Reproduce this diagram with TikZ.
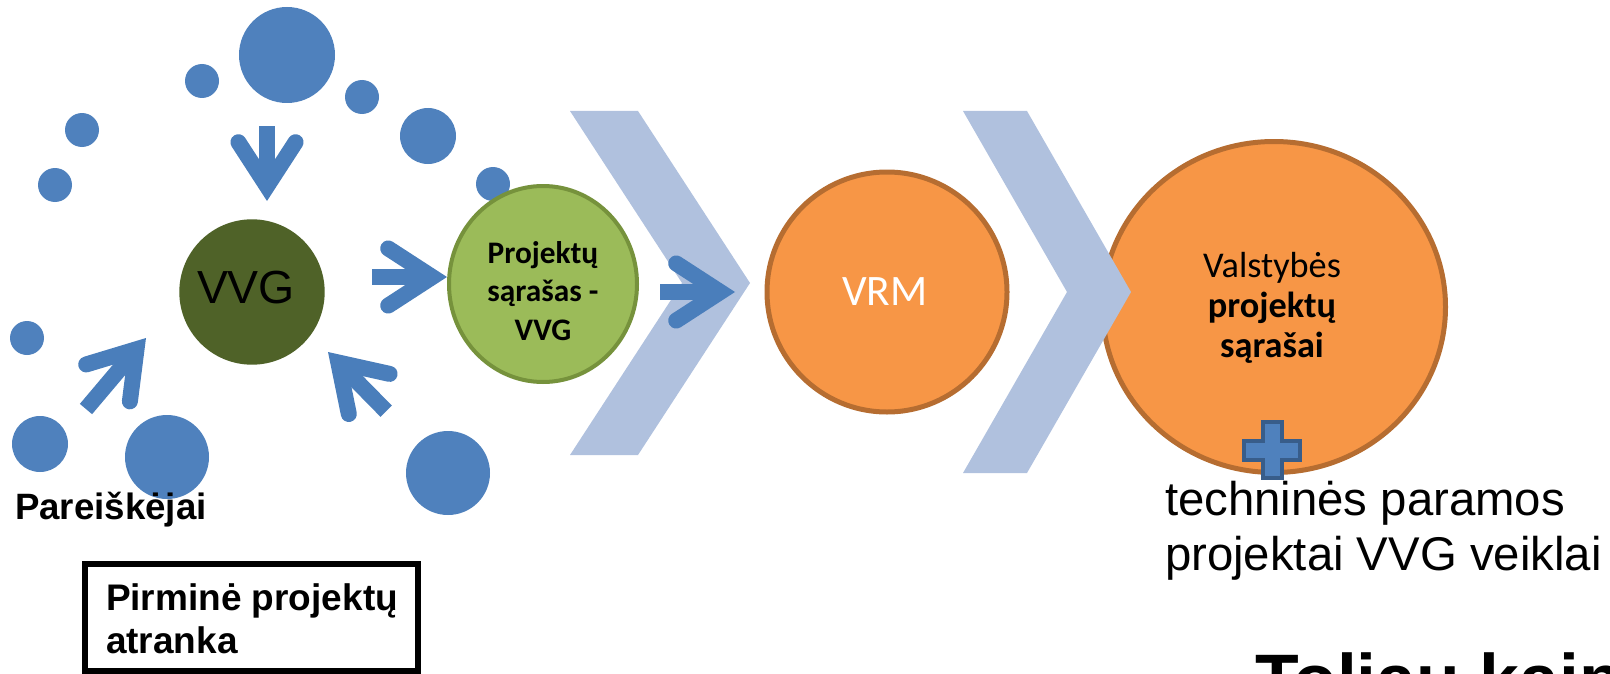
\documentclass[tikz,border=0pt]{standalone}
\usepackage{fontspec}
\setmainfont{Liberation Sans}
\newfontfamily\carlito{Carlito}
\usetikzlibrary{shapes.geometric}
\definecolor{dotblue}{RGB}{79,129,189}
\definecolor{arrowblue}{RGB}{74,126,187}
\definecolor{vvgolive}{RGB}{79,98,40}
\definecolor{lgreen}{RGB}{155,187,89}
\definecolor{lgreenline}{RGB}{118,146,60}
\definecolor{orangefill}{RGB}{247,150,70}
\definecolor{orangeline}{RGB}{182,109,49}
\definecolor{chevblue}{RGB}{176,193,222}
\definecolor{plusline}{RGB}{56,93,138}
\tikzset{
  dot/.style={circle, fill=dotblue, draw=none, inner sep=0pt, outer sep=0pt, minimum size={#1*1.5pt}},
  arrowline/.style={draw=arrowblue, line width=12pt},
  pics/stickarrow/.style={code={
    \draw[arrowline, line cap=butt] (-#1,0) -- (-14.7,0);
    \draw[arrowline, line cap=round, line join=miter] (-58.8,28.6) -- (-14.7,0) -- (-58.8,-28.6);
  }},
  chevron/.style={fill=chevblue, draw=none},
  txt/.style={inner sep=0pt, outer sep=0pt},
  orangecirc/.style={fill=orangefill, draw=orangeline, line width=3.75pt, inner sep=0pt},
}
\begin{document}
\begin{tikzpicture}[x=0.75pt,y=-0.75pt]
\useasboundingbox (0,0) rectangle (1610,674);
% blue dots (applicants)
\node[dot=48] (d1) at (287,55) {};
\node[dot=17] (d2) at (202,81) {};
\node[dot=17] (d3) at (362,97) {};
\node[dot=28] (d4) at (428,136) {};
\node[dot=17] (d5) at (82,130) {};
\node[dot=17] (d6) at (55,185) {};
\node[dot=17] (d7) at (493,184) {};
\node[dot=17] (d8) at (27,338) {};
\node[dot=28] (d9) at (40,444) {};
\node[dot=42] (d10) at (167,457) {};
\node[dot=42] (d11) at (448,473) {};
% VVG circle
\node[circle, fill=vvgolive, inner sep=0pt, minimum size={145.4*0.75pt}] (vvg) at (252,292) {};
% green list circle
\node[ellipse, fill=lgreen, draw=lgreenline, line width=3pt, inner sep=0pt,
      minimum width={188*0.75pt}, minimum height={196*0.75pt}] (list) at (543,284) {};
% arrows towards VVG and list
\pic[rotate=-90] at (267,201) {stickarrow=75};
\pic[rotate=49.8] at (146,338) {stickarrow=93};
\pic[rotate=134.5] at (328,352) {stickarrow=83};
\pic at (447,277) {stickarrow=75};
% chevron 1
\fill[chevron] (570,111) -- (638,111) -- (750,283) -- (638,455) -- (570,455) -- (682,283) -- cycle;
\pic at (735,292) {stickarrow=75};
% VRM
\node[circle, orangecirc, minimum size={240*0.75pt}] (vrm) at (887,292) {};
% state list
\node[ellipse, orangecirc, minimum width={343*0.75pt}, minimum height={331*0.75pt}] (state) at (1274,307) {};
% chevron 2
\fill[chevron] (963,111) -- (1027,111) -- (1131,292) -- (1027,473) -- (963,473) -- (1067,292) -- cycle;
% plus sign
\filldraw[fill=dotblue, draw=plusline, line width=3pt]
  (1262.5,422) -- ++(19,0) -- ++(0,18.5) -- ++(18.5,0) -- ++(0,19) -- ++(-18.5,0)
  -- ++(0,18.5) -- ++(-19,0) -- ++(0,-18.5) -- ++(-18.5,0) -- ++(0,-19) -- ++(18.5,0) -- cycle;
% texts
\node[txt, anchor=base, font=\fontsize{34.8}{40}\selectfont] (vvgt) at (246,303) {VVG};
\node[txt, anchor=base, font=\carlito\bfseries\fontsize{23.5}{28}\selectfont] (l1) at (543,263.3) {Projektų};
\node[txt, anchor=base, font=\carlito\bfseries\fontsize{23.5}{28}\selectfont] (l2) at (543,301.7) {sąrašas -};
\node[txt, anchor=base, font=\carlito\bfseries\fontsize{23.5}{28}\selectfont] (l3) at (543,340) {VVG};
\node[txt, anchor=base, text=white, font=\carlito\fontsize{32.6}{38}\selectfont] (vrmt) at (885,305) {VRM};
\node[txt, anchor=base, font=\carlito\fontsize{27.2}{32}\selectfont] (s1) at (1272,277) {Valstybės};
\node[txt, anchor=base, font=\carlito\bfseries\fontsize{27.2}{32}\selectfont] (s2) at (1272,317) {projektų};
\node[txt, anchor=base, font=\carlito\bfseries\fontsize{27.2}{32}\selectfont] (s3) at (1272,357) {sąrašai};
\node[txt, anchor=base west, font=\fontsize{35.5}{41}\selectfont] (t1) at (1165,515) {techninės paramos};
\node[txt, anchor=base west, font=\fontsize{35.5}{41}\selectfont] (t2) at (1165,570) {projektai VVG veiklai};
\node[txt, anchor=base west, font=\bfseries\fontsize{27.5}{32}\selectfont] (par) at (15,519) {Pareiškėjai};
\node[draw, line width=4.5pt, inner sep=0pt, minimum width={333*0.75pt}, minimum height={107*0.75pt}] (box) at (251.5,617.5) {};
\node[txt, anchor=base west, font=\bfseries\fontsize{27.75}{32}\selectfont] (b1) at (106,610) {Pirminė projektų};
\node[txt, anchor=base west, font=\bfseries\fontsize{27.75}{32}\selectfont] (b2) at (106,653) {atranka};
\node[txt, anchor=base west, font=\bfseries\fontsize{53.6}{60}\selectfont] (tol) at (1255,704) {Toliau kaip};
\end{tikzpicture}
\end{document}
